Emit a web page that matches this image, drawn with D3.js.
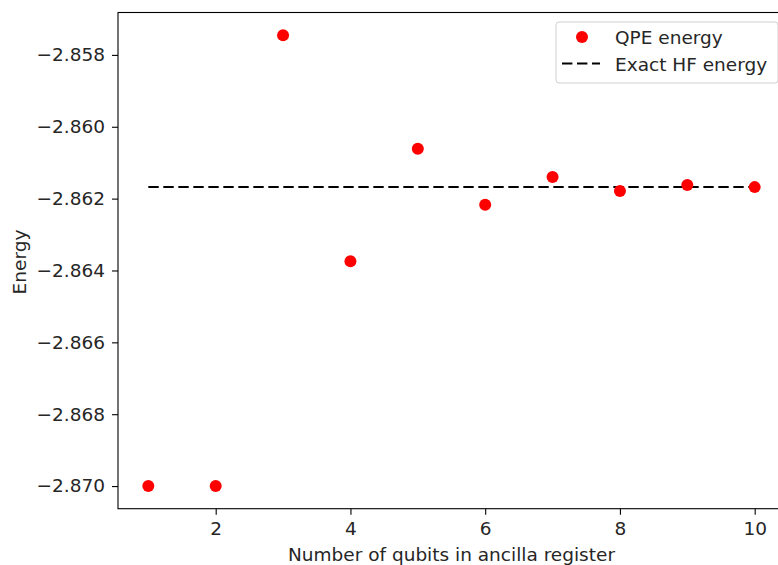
<!DOCTYPE html>
<html>
<head>
<meta charset="utf-8">
<script src="https://cdn.jsdelivr.net/npm/d3@7"></script>
<style>
  body { margin: 0; background: #fff; }
  text { font-family: "DejaVu Sans", sans-serif; fill: #262626; }
</style>
</head>
<body>
<svg width="778" height="565"></svg>
<script>
// data
var qubits = [1, 2, 3, 4, 5, 6, 7, 8, 9, 10];
var qpeEnergy = [-2.8700, -2.8700, -2.85745, -2.86374, -2.86061, -2.86217, -2.86140, -2.86179, -2.86162, -2.86168];
var hfEnergy = -2.86168;
var xTicks = [2, 4, 6, 8, 10];
var yTicks = [-2.870, -2.868, -2.866, -2.864, -2.862, -2.860, -2.858];

var margins = {top: 12.5, left: 118, bottom: 508.7, right: 785};
var fontSize = "18.5px";
var dashes = "10.4,4.6";

var svg = d3.select("svg");

var x = d3.scaleLinear()
  .domain([0.55, 10.45])
  .range([margins.left, margins.right]);
var y = d3.scaleLinear()
  .domain([-2.87063, -2.85682])
  .range([margins.bottom, margins.top]);

var fmt = function(d) { return d3.format(".3f")(d).replace("-", "\u2212"); };

// axes
svg.append("g")
  .attr("transform", "translate(0," + margins.bottom + ")")
  .call(d3.axisBottom(x).tickValues(xTicks).tickSize(6).tickPadding(7).tickFormat(d3.format("d")))
  .call(function(g) { g.select(".domain").remove(); })
  .selectAll("text").style("font-size", fontSize);

svg.append("g")
  .attr("transform", "translate(" + margins.left + ",0)")
  .call(d3.axisLeft(y).tickValues(yTicks).tickSize(6).tickPadding(7).tickFormat(fmt))
  .call(function(g) { g.select(".domain").remove(); })
  .selectAll("text").style("font-size", fontSize);

svg.selectAll(".tick line").attr("stroke", "#000").attr("stroke-width", 1.1);

// frame
svg.append("rect")
  .attr("x", margins.left)
  .attr("y", margins.top)
  .attr("width", margins.right - margins.left)
  .attr("height", margins.bottom - margins.top)
  .attr("fill", "none")
  .attr("stroke", "#000")
  .attr("stroke-width", 1.1);

// exact HF line
svg.append("line")
  .attr("x1", x(qubits[0]))
  .attr("x2", x(qubits[qubits.length - 1]))
  .attr("y1", y(hfEnergy))
  .attr("y2", y(hfEnergy))
  .attr("stroke", "#000")
  .attr("stroke-width", 2)
  .attr("stroke-dasharray", dashes);

// QPE points
svg.selectAll(".pt")
  .data(qubits)
  .enter()
  .append("circle")
  .attr("class", "pt")
  .attr("cx", function(d) { return x(d); })
  .attr("cy", function(d, i) { return y(qpeEnergy[i]); })
  .attr("r", 6)
  .attr("fill", "red");

// axis labels
svg.append("text")
  .attr("x", (margins.left + margins.right) / 2)
  .attr("y", 561)
  .attr("text-anchor", "middle")
  .style("font-size", fontSize)
  .text("Number of qubits in ancilla register");

svg.append("text")
  .attr("transform", "translate(25.5,262) rotate(-90)")
  .attr("text-anchor", "middle")
  .style("font-size", fontSize)
  .text("Energy");

// legend
var legend = svg.append("g").attr("transform", "translate(556,22)");
legend.append("rect")
  .attr("width", 222)
  .attr("height", 61)
  .attr("rx", 3)
  .attr("fill", "#fff")
  .attr("fill-opacity", 0.8)
  .attr("stroke", "#d0d0d0");
legend.append("circle")
  .attr("cx", 26).attr("cy", 15).attr("r", 6).attr("fill", "red");
legend.append("line")
  .attr("x1", 6).attr("x2", 44).attr("y1", 41.5).attr("y2", 41.5)
  .attr("stroke", "#000").attr("stroke-width", 2).attr("stroke-dasharray", dashes);
legend.append("text").attr("x", 59).attr("y", 21.5).style("font-size", fontSize).text("QPE energy");
legend.append("text").attr("x", 59).attr("y", 48.5).style("font-size", fontSize).text("Exact HF energy");
</script>
</body>
</html>
